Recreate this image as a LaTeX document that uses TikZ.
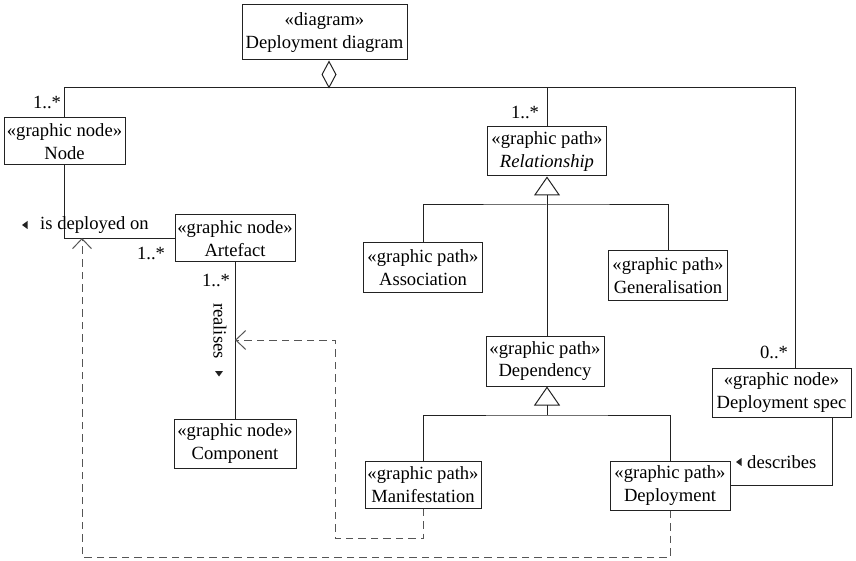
\documentclass[tikz,border=0pt]{standalone}
\usepackage{fontspec}
\setmainfont{Liberation Serif}
\usetikzlibrary{arrows.meta}
\definecolor{ink}{HTML}{222222}
\definecolor{dashink}{HTML}{555555}
\begin{document}
\begin{tikzpicture}[x=1pt,y=-1pt,
  every node/.style={font=\fontsize{18.6}{22.5}\selectfont, text=black},
  box/.style={draw=ink, line width=1pt, align=center, inner sep=0pt},
  conn/.style={draw=ink, line width=1pt},
  dep/.style={draw=dashink, line width=1pt, dash pattern=on 7.5pt off 5pt},
  gen/.style={conn, -{Triangle[open, length=19pt, width=26pt, line width=1pt]}},
  agg/.style={conn, -{Diamond[open, length=28pt, width=15pt, line width=1pt]}},
  barb/.style={-{Straight Barb[length=10pt, width=19pt, line width=1pt]}},
  mult/.style={inner sep=0pt, anchor=center}
]
\useasboundingbox (0,0) rectangle (856,561);

% classes
\node[box, minimum width=165pt, minimum height=55pt] (diag) at (324.5,32.5) {«diagram»\\Deployment diagram};
\node[box, minimum width=121pt, minimum height=47pt] (node) at (64.5,141.5) {«graphic node»\\Node};
\node[box, minimum width=120pt, minimum height=47pt] (artefact) at (235,238.5) {«graphic node»\\Artefact};
\node[box, minimum width=122pt, minimum height=49pt] (component) at (235,443.5) {«graphic node»\\Component};
\node[box, minimum width=119pt, minimum height=49pt] (relationship) at (547,151.5) {«graphic path»\\\textit{Relationship}};
\node[box, minimum width=119pt, minimum height=49pt] (association) at (423,267.5) {«graphic path»\\Association};
\node[box, minimum width=119pt, minimum height=49pt] (generalisation) at (668,275.5) {«graphic path»\\Generalisation};
\node[box, minimum width=118pt, minimum height=50pt] (dependency) at (545,361) {«graphic path»\\Dependency};
\node[box, minimum width=116pt, minimum height=47pt] (manifestation) at (423,484.5) {«graphic path»\\Manifestation};
\node[box, minimum width=120pt, minimum height=49pt] (deployment) at (670,485.5) {«graphic path»\\Deployment};
\node[box, minimum width=139pt, minimum height=49pt] (depspec) at (781.5,392.5) {«graphic node»\\Deployment spec};

% junction points
\coordinate (hub) at (329,88);
\coordinate (rtop) at (795,88);
\coordinate (g1) at (547,205);
\coordinate (g2) at (547,415);
\coordinate (rtip) at (235,340);
\coordinate (dtip) at (82,238);

% aggregation
\draw[agg] (hub) -- (hub |- diag.south);
\draw[conn] (node.north) |- (rtop) -- (rtop |- depspec.north);
\draw[conn] (relationship.north) -- (relationship.north |- hub);

% generalisations
\draw[gen] (g1) -- (relationship.south);
\draw[conn] (association.north) |- (g1) -| (generalisation.north);
\draw[conn] (g1) -- (g1 |- dependency.north);
\draw[gen] (g2) -- (g2 |- dependency.south);
\draw[conn] (manifestation.north) |- (g2) -| (deployment.north);

% associations
\draw[conn] (node.south) |- (artefact.west);
\draw[conn] (artefact.south) -- (component.north);
\draw[conn] ([xshift=-19pt]depspec.south east) |- (deployment.east);

% dependencies
\draw[dep, barb] (manifestation.south) -- ++(0,30) -| (335,340) -- (rtip);
\draw[dep, barb] (deployment.south) -- ++(0,46.5) -| (dtip);

% multiplicities
\node[mult] (m1) at (47,102) {1..*};
\node[mult] (m2) at (525,112) {1..*};
\node[mult] (m3) at (774,352) {0..*};
\node[mult] (m4) at (151,253) {1..*};
\node[mult] (m5) at (216,280) {1..*};

% association names
\node[inner sep=0pt, anchor=west] (deployedon) at (40,225) {is deployed on};
\fill[ink] (22,225) -- (27.5,221) -- (27.5,229) -- cycle;
\node[inner sep=0pt, rotate=-90] (realises) at (220,331) {realises};
\fill[ink] (219,376.5) -- (215,371) -- (223,371) -- cycle;
\node[inner sep=0pt, anchor=west] (describes) at (747,462) {describes};
\fill[ink] (736,462) -- (741.5,458) -- (741.5,466) -- cycle;
\end{tikzpicture}
\end{document}
